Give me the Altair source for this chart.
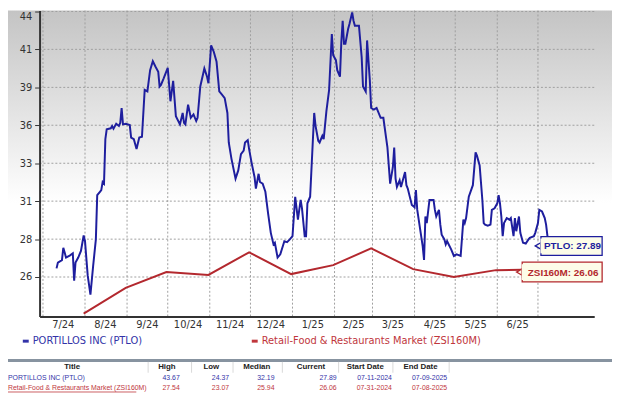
import altair as alt
import pandas as pd

# ---------------- data ----------------
ptlo_dates = [
    "2024-07-11", "2024-07-12", "2024-07-15", "2024-07-16", "2024-07-17", "2024-07-18", "2024-07-21",
    "2024-07-23", "2024-07-24", "2024-07-25", "2024-07-27", "2024-07-29", "2024-07-31", "2024-08-01",
    "2024-08-03", "2024-08-05", "2024-08-07", "2024-08-09", "2024-08-10", "2024-08-12", "2024-08-13",
    "2024-08-14", "2024-08-15", "2024-08-16", "2024-08-17", "2024-08-20", "2024-08-21", "2024-08-22",
    "2024-08-24", "2024-08-26", "2024-08-27", "2024-08-28", "2024-08-29", "2024-08-31", "2024-09-03",
    "2024-09-04", "2024-09-06", "2024-09-08", "2024-09-10", "2024-09-12", "2024-09-14", "2024-09-16",
    "2024-09-18", "2024-09-20", "2024-09-22", "2024-09-24", "2024-09-25", "2024-09-26", "2024-09-28",
    "2024-10-01", "2024-10-03", "2024-10-05", "2024-10-07", "2024-10-10", "2024-10-12", "2024-10-13",
    "2024-10-14", "2024-10-16", "2024-10-18", "2024-10-20", "2024-10-22", "2024-10-23", "2024-10-25",
    "2024-10-28", "2024-10-30", "2024-10-31", "2024-11-02", "2024-11-04", "2024-11-06", "2024-11-08",
    "2024-11-10", "2024-11-12", "2024-11-14", "2024-11-15", "2024-11-17", "2024-11-20", "2024-11-22",
    "2024-11-24", "2024-11-26", "2024-11-27", "2024-11-29", "2024-11-30", "2024-12-02", "2024-12-04",
    "2024-12-05", "2024-12-07", "2024-12-08", "2024-12-10", "2024-12-12", "2024-12-14", "2024-12-16",
    "2024-12-18", "2024-12-19", "2024-12-21", "2024-12-23", "2024-12-26", "2024-12-28", "2024-12-30",
    "2025-01-01", "2025-01-03", "2025-01-05", "2025-01-07", "2025-01-08", "2025-01-10", "2025-01-11",
    "2025-01-12", "2025-01-14", "2025-01-16", "2025-01-17", "2025-01-18", "2025-01-20", "2025-01-21",
    "2025-01-23", "2025-01-24", "2025-01-26", "2025-01-28", "2025-01-30", "2025-01-31", "2025-02-02",
    "2025-02-03", "2025-02-05", "2025-02-06", "2025-02-07", "2025-02-08", "2025-02-09", "2025-02-11",
    "2025-02-12", "2025-02-14", "2025-02-15", "2025-02-16", "2025-02-19", "2025-02-21", "2025-02-22",
    "2025-02-24", "2025-02-25", "2025-02-27", "2025-02-28", "2025-03-02", "2025-03-04", "2025-03-07",
    "2025-03-09", "2025-03-11", "2025-03-12", "2025-03-14", "2025-03-16", "2025-03-17", "2025-03-18",
    "2025-03-19", "2025-03-21", "2025-03-22", "2025-03-25", "2025-03-26", "2025-03-27", "2025-03-30",
    "2025-04-01", "2025-04-02", "2025-04-03", "2025-04-05", "2025-04-07", "2025-04-08", "2025-04-09",
    "2025-04-10", "2025-04-12", "2025-04-15", "2025-04-16", "2025-04-17", "2025-04-19", "2025-04-20",
    "2025-04-21", "2025-04-23", "2025-04-24", "2025-04-25", "2025-04-28", "2025-04-30", "2025-05-02",
    "2025-05-05", "2025-05-07", "2025-05-08", "2025-05-09", "2025-05-11", "2025-05-14", "2025-05-16",
    "2025-05-17", "2025-05-19", "2025-05-21", "2025-05-22", "2025-05-23", "2025-05-25", "2025-05-27",
    "2025-05-28", "2025-05-30", "2025-06-01", "2025-06-02", "2025-06-03", "2025-06-04", "2025-06-05",
    "2025-06-06", "2025-06-08", "2025-06-10", "2025-06-11", "2025-06-13", "2025-06-14", "2025-06-15",
    "2025-06-17", "2025-06-18", "2025-06-20", "2025-06-22", "2025-06-24", "2025-06-25", "2025-06-28",
    "2025-06-29", "2025-07-01", "2025-07-02", "2025-07-04", "2025-07-06", "2025-07-07", "2025-07-08",
    "2025-07-09",
]
ptlo_prices = [
    26.17, 26.57, 26.73, 27.58, 27.25, 26.91, 27.06,
    27.20, 25.33, 26.57, 26.91, 27.36, 28.42, 28.03,
    25.67, 24.37, 26.34, 28.15, 31.18, 31.41, 31.52,
    32.08, 31.97, 35.01, 35.68, 35.75, 35.91, 35.73,
    36.06, 35.91, 36.13, 37.14, 36.02, 36.06, 35.97,
    35.12, 35.01, 34.33, 35.12, 35.17, 38.38, 38.27,
    39.73, 40.34, 39.96, 39.62, 38.61, 38.72, 39.17,
    39.89, 37.60, 38.99, 36.58, 36.02, 36.80, 36.13,
    36.02, 37.37, 36.47, 36.70, 36.25, 36.47, 38.61,
    39.84, 39.28, 38.83, 41.42, 40.97, 40.30, 38.27,
    38.05, 37.82, 36.80, 34.78, 33.66, 32.31, 32.87,
    33.99, 34.22, 34.78, 34.94, 34.33, 33.32, 32.42,
    31.63, 32.64, 32.08, 31.97, 31.41, 29.94, 28.60,
    27.81, 27.92, 26.91, 27.13, 28.03, 27.96, 28.15,
    28.37, 31.07, 29.50, 30.85, 30.28, 28.37, 28.37,
    30.62, 31.07, 34.90, 36.80, 35.91, 34.90, 34.78,
    35.23, 35.01, 36.92, 38.38, 42.20, 40.75, 40.41,
    39.73, 39.28, 41.65, 43.11, 41.53, 41.53, 42.54,
    42.88, 43.67, 43.11, 42.77, 42.77, 40.63, 38.61,
    38.27, 41.76, 39.06, 37.14, 37.03, 37.14, 36.47,
    36.47, 35.12, 34.44, 31.97, 33.09, 34.44, 32.31,
    31.74, 32.19, 31.74, 32.76, 31.86, 31.63, 30.51,
    30.35, 31.52, 30.17, 28.93, 27.69, 26.75, 29.72,
    29.27, 30.85, 30.85, 30.17, 29.72, 30.17, 29.16,
    28.48, 28.15, 27.81, 28.03, 27.47, 27.02, 27.13,
    27.02, 29.50, 29.27, 29.61, 31.07, 31.86, 34.11,
    33.88, 33.21, 30.85, 29.27, 29.16, 29.09, 29.16,
    30.17, 30.28, 30.62, 31.18, 30.62, 29.72, 28.37,
    29.27, 29.61, 29.50, 29.61, 28.37, 29.61, 28.71,
    29.72, 28.60, 27.92, 27.87, 28.15, 28.26, 28.37,
    28.60, 29.27, 30.17, 30.06, 29.61, 29.16, 28.37,
    27.89,
]

zsi_dates = [
    "2024-07-31", "2024-08-31", "2024-09-30", "2024-10-31", "2024-11-30", "2024-12-31",
    "2025-01-31", "2025-02-28", "2025-03-31", "2025-04-30", "2025-05-31", "2025-06-30", "2025-07-08",
]
zsi_values = [23.07, 24.84, 25.92, 25.72, 27.27, 25.78, 26.39, 27.54, 26.12, 25.58, 26.05, 26.10, 26.06]

y_tick_values = [25.58, 28.17, 30.77, 33.36, 35.96, 38.55, 41.15, 43.74]

month_starts = [
    "2024-07-01", "2024-08-01", "2024-09-01", "2024-10-01", "2024-11-01", "2024-12-01", "2025-01-01",
    "2025-02-01", "2025-03-01", "2025-04-01", "2025-05-01", "2025-06-01", "2025-07-01",
]
month_label_dates = [
    "2024-07-16", "2024-08-16", "2024-09-16", "2024-10-16", "2024-11-16", "2024-12-16",
    "2025-01-16", "2025-02-15", "2025-03-16", "2025-04-16", "2025-05-16", "2025-06-16",
]
month_labels = ["7/24", "8/24", "9/24", "10/24", "11/24", "12/24",
                "1/25", "2/25", "3/25", "4/25", "5/25", "6/25"]

series_names = ["PORTILLOS INC (PTLO)", "Retail-Food & Restaurants Market (ZSI160M)"]
series_tags = ["PTLO", "ZSI160M"]
table_headers = ["Title", "High", "Low", "Median", "Current", "Start Date", "End Date"]
table_high = ["43.67", "27.54"]
table_low = ["24.37", "23.07"]
table_median = ["32.19", "25.94"]
table_current = ["27.89", "26.06"]
table_start = ["07-11-2024", "07-31-2024"]
table_end = ["07-09-2025", "07-08-2025"]

# ---------------- styling ----------------
BLUE = "#1e1e9e"
RED = "#b3282e"
BLUE_TXT = "#3333a8"
RED_TXT = "#c0363c"
AXIS = "#333333"
GRID = "#9e9e9e"
FONT = "DejaVu Sans"
W, H = 562, 310

ptlo_df = pd.DataFrame({"date": ptlo_dates, "price": ptlo_prices})
zsi_df = pd.DataFrame({"date": zsi_dates, "price": zsi_values})

x_scale = alt.Scale(
    type="utc",
    domain=[alt.DateTime(year=2024, month=6, date=28, hours=12, utc=True),
            alt.DateTime(year=2025, month=8, date=11, hours=12, utc=True)],
)
y_scale = alt.Scale(domain=[22.88, 43.805], nice=False, zero=False)

x_axis = alt.Axis(labels=False, ticks=False, grid=False, domainWidth=2, domainColor=AXIS,
                  title=None, zindex=1)
y_axis = alt.Axis(values=y_tick_values, format=".0f", grid=False, tickSize=5, tickColor=AXIS,
                  domainWidth=2, domainColor=AXIS, labelFont=FONT, labelFontSize=10,
                  labelColor=AXIS, labelPadding=3, labelFlush=3, title=None, zindex=1)

layers = []

# background gradient
grad = alt.LinearGradient(
    gradient="linear",
    stops=[alt.GradientStop(color="#c4c4c4", offset=0), alt.GradientStop(color="#ffffff", offset=1)],
    x1=0, x2=0, y1=0, y2=1,
)
layers.append(alt.Chart().mark_rect(color=grad).encode(
    x=alt.value(-32), x2=alt.value(580), y=alt.value(0), y2=alt.value(195)))

# grid lines
layers.append(alt.Chart(pd.DataFrame({"v": y_tick_values})).mark_rule(
    color=GRID, strokeDash=[2, 2], strokeWidth=1).encode(
    y=alt.Y("v:Q", scale=y_scale, axis=y_axis)))
layers.append(alt.Chart(pd.DataFrame({"d": month_starts})).mark_rule(
    color=GRID, strokeDash=[2, 2], strokeWidth=1).encode(
    x=alt.X("d:T", scale=x_scale, axis=x_axis)))

# series lines
layers.append(alt.Chart(zsi_df).mark_line(color=RED, strokeWidth=2).encode(
    x=alt.X("date:T", scale=x_scale, axis=x_axis),
    y=alt.Y("price:Q", scale=y_scale, axis=y_axis)))
layers.append(alt.Chart(ptlo_df).mark_line(color=BLUE, strokeWidth=2).encode(
    x=alt.X("date:T", scale=x_scale, axis=x_axis),
    y=alt.Y("price:Q", scale=y_scale, axis=y_axis)))

# month labels under the axis
layers.append(alt.Chart(pd.DataFrame({"d": month_label_dates, "lab": month_labels})).mark_text(
    font=FONT, fontSize=10, color=AXIS, baseline="middle").encode(
    x=alt.X("d:T", scale=x_scale, axis=x_axis), y=alt.value(319), text="lab:N"))

# current value tags
tag_specs = [
    (f"{series_tags[0]}: {table_current[0]}", BLUE, 508, 570, 229, 248),
    (f"{series_tags[1]}: {table_current[1]}", RED, 489, 570, 255, 275),
]
for txt, col, x1, x2, y1, y2 in tag_specs:
    layers.append(alt.Chart().mark_rect(fill="#fdfde8", stroke=col, strokeWidth=1.3).encode(
        x=alt.value(x1), x2=alt.value(x2), y=alt.value(y1), y2=alt.value(y2)))
    layers.append(alt.Chart().mark_point(shape="triangle-left", filled=True, fill="#fdfde8",
                                         stroke=col, strokeWidth=1.3, size=40, opacity=1).encode(
        x=alt.value(x1 - 3), y=alt.value((y1 + y2) / 2)))
    layers.append(alt.Chart().mark_rect(fill="#fdfde8").encode(
        x=alt.value(x1 - 0.5), x2=alt.value(x1 + 1.5), y=alt.value(y1 + 2), y2=alt.value(y2 - 2)))
    layers.append(alt.Chart().mark_text(text=txt, font="Liberation Sans", fontWeight="bold",
                                        fontSize=10, color=col, align="center", baseline="middle").encode(
        x=alt.value((x1 + x2) / 2 + 1), y=alt.value((y1 + y2) / 2 + 0.5)))

# legend
leg_specs = [(series_names[0], BLUE_TXT, -17), (series_names[1], RED_TXT, 215)]
for name, col, x0 in leg_specs:
    layers.append(alt.Chart().mark_rule(color=col, strokeWidth=3).encode(
        x=alt.value(x0), x2=alt.value(x0 + 6), y=alt.value(335)))
    layers.append(alt.Chart().mark_text(text=name, font=FONT, fontSize=10, color=col,
                                        align="left", baseline="middle").encode(
        x=alt.value(x0 + 10), y=alt.value(335)))

# table
layers.append(alt.Chart().mark_rule(color="#8793a0", strokeWidth=3).encode(
    x=alt.value(-32), x2=alt.value(580), y=alt.value(354.5)))
for sx in [110, 154, 196, 246, 303, 358, 415]:
    layers.append(alt.Chart().mark_rule(color="#d8d8d8", strokeWidth=1).encode(
        x=alt.value(sx), y=alt.value(356), y2=alt.value(367)))
header_x = [33, 129, 174, 220, 275, 330, 386]
for hx, h in zip(header_x, table_headers):
    layers.append(alt.Chart().mark_text(text=h, font="Liberation Sans", fontWeight="bold",
                                        fontSize=8, color="#222222", baseline="middle").encode(
        x=alt.value(hx), y=alt.value(361.5)))

row_y = [372, 382]
row_colors = [BLUE_TXT, RED_TXT]
value_cols = [table_high, table_low, table_median, table_current, table_start, table_end]
value_right = [142, 192, 238, 301, 357, 413]
for r in range(2):
    layers.append(alt.Chart().mark_text(text=series_names[r], font="Liberation Sans", fontSize=7,
                                        color=row_colors[r], align="left", baseline="middle").encode(
        x=alt.value(-32), y=alt.value(row_y[r])))
    for col_vals, xr in zip(value_cols, value_right):
        layers.append(alt.Chart().mark_text(text=col_vals[r], font="Liberation Sans", fontSize=7,
                                            color=row_colors[r], align="right", baseline="middle").encode(
            x=alt.value(xr), y=alt.value(row_y[r])))
layers.append(alt.Chart().mark_rule(color=RED_TXT, strokeWidth=0.8).encode(
    x=alt.value(-32), x2=alt.value(98), y=alt.value(386.5)))

chart = alt.layer(*layers, data=pd.DataFrame({"k": [0]})).properties(
    width=W, height=H,
    autosize=alt.AutoSizeParams(type="none"),
    padding={"left": 32, "top": 0, "right": 18, "bottom": 79},
).configure_view(stroke=None)

chart.save("out.html", embed_options={"renderer": "svg", "actions": False})
